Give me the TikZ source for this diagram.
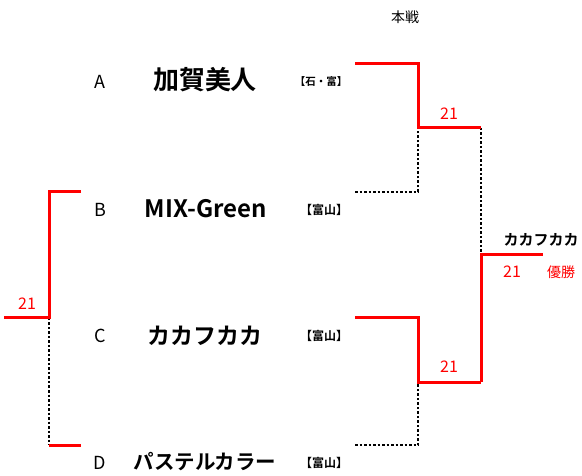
\documentclass[tikz,border=0pt]{standalone}
\usepackage{fontspec}
\setmainfont{Noto Sans CJK JP}[BoldFont={Noto Sans CJK JP Bold}]
\begin{document}
\begin{tikzpicture}[x=1pt,y=-1pt,
  redline/.style={draw={rgb,255:red,255;green,0;blue,0}, line width=3pt},
  dotline/.style={draw=black, line width=1.1pt, dash pattern=on 2.5pt off 2pt},
  letter/.style={font=\fontsize{18}{18}\selectfont, inner sep=0pt},
  tag/.style={font=\bfseries\fontsize{12}{12}\selectfont, inner sep=0pt},
  score/.style={text={rgb,255:red,255;green,0;blue,0}, font=\fontsize{16}{16}\selectfont, inner sep=0pt},
  team/.style={font=\bfseries, inner sep=0pt}]
\useasboundingbox (0,0) rectangle (582,476);
% coordinates
\coordinate (A1) at (355,64);  \coordinate (A2) at (418,64);
\coordinate (A3) at (418,128); \coordinate (S1) at (481,128);
\coordinate (B1) at (355,192); \coordinate (B2) at (418,192);
\coordinate (C1) at (355,318); \coordinate (C2) at (418,318);
\coordinate (C3) at (418,382); \coordinate (S2) at (481,382);
\coordinate (D1) at (355,445); \coordinate (D2) at (418,445);
\coordinate (F1) at (481,255); \coordinate (F2) at (543,255);
\coordinate (L1) at (81,192);  \coordinate (L2) at (49,192);
\coordinate (L3) at (49,318);  \coordinate (L0) at (4,318);
\coordinate (L4) at (49,445);  \coordinate (L5) at (81,445);
% dotted
\draw[dotline] (B1) -- (B2) -- (A3);
\draw[dotline] (D1) -- (D2) -- (C3);
\draw[dotline] (S1) -- (F1);
\draw[dotline] (L3) -- (L4);
% red
\draw[redline] (A1) -- (A2) -- (A3) -- (S1);
\draw[redline] (C1) -- (C2) -- (C3) -- (S2);
\draw[redline] (S2) -- (F1) -- (F2);
\draw[redline] (L1) -- (L2) -- (L3) -- (L0);
\draw[redline] (L4) -- (L5);
% texts
\node[font=\fontsize{14}{14}\selectfont, inner sep=0pt] (title) at (405,17) {本戦};
\node[letter] (la) at (100,82) {A};
\node[letter] (lb) at (100,210) {B};
\node[letter] (lc) at (100,336) {C};
\node[letter] (ld) at (100,463) {D};
\node[team, font=\bfseries\fontsize{26}{26}\selectfont] (ta) at (205,80) {加賀美人};
\node[team, font=\bfseries\fontsize{24}{24}\selectfont] (tb) at (206,209) {MIX-Green};
\node[team, font=\bfseries\fontsize{23}{23}\selectfont] (tc) at (205,336) {カカフカカ};
\node[team, font=\bfseries\fontsize{20.5}{20.5}\selectfont] (td) at (205,462) {パステルカラー};
\node[tag, font=\bfseries\fontsize{10.5}{10.5}\selectfont] (ga) at (321,82) {【石・富】};
\node[tag] (gb) at (324,210) {【富山】};
\node[tag] (gc) at (324,336) {【富山】};
\node[tag] (gd) at (324,463) {【富山】};
\node[score] (s1) at (449,114) {21};
\node[score] (s2) at (449,367) {21};
\node[score] (s3) at (27,304) {21};
\node[score] (s4) at (512,272) {21};
\node[team, font=\bfseries\fontsize{15}{15}\selectfont] (win) at (541,240) {カカフカカ};
\node[score, font=\fontsize{14}{14}\selectfont] (yu) at (561,272) {優勝};
\end{tikzpicture}
\end{document}
